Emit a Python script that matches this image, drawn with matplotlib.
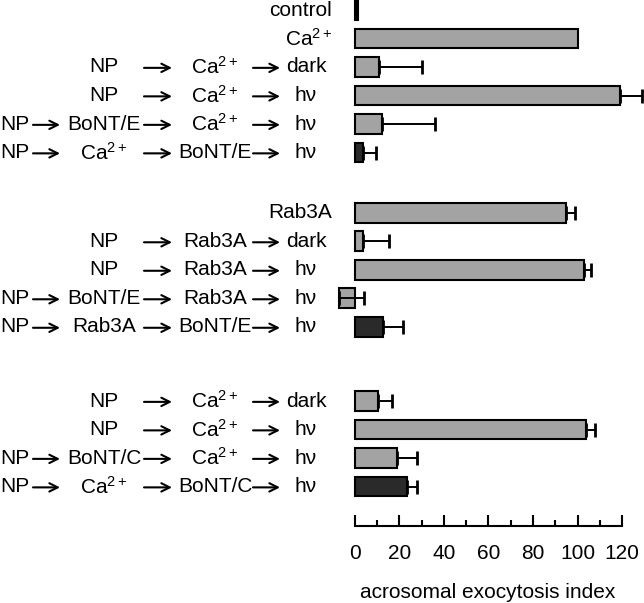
import numpy as np
import matplotlib
matplotlib.use("Agg")
import matplotlib.pyplot as plt
import matplotlib.transforms as mtransforms

plt.rcParams['font.family'] = ['Liberation Sans', 'DejaVu Sans']
plt.rcParams['font.size'] = 15
plt.rcParams['mathtext.fontset'] = 'custom'
plt.rcParams['mathtext.rm'] = 'Liberation Sans'
plt.rcParams['mathtext.it'] = 'Liberation Sans:italic'

CA = "Ca$^{2+}$"
# row labels, one tuple of steps per bar
labels = [
    ("control",),
    (CA,),
    ("NP", CA, "dark"),
    ("NP", CA, "h\u03bd"),
    ("NP", "BoNT/E", CA, "h\u03bd"),
    ("NP", CA, "BoNT/E", "h\u03bd"),
    ("Rab3A",),
    ("NP", "Rab3A", "dark"),
    ("NP", "Rab3A", "h\u03bd"),
    ("NP", "BoNT/E", "Rab3A", "h\u03bd"),
    ("NP", "Rab3A", "BoNT/E", "h\u03bd"),
    ("NP", CA, "dark"),
    ("NP", CA, "h\u03bd"),
    ("NP", "BoNT/C", CA, "h\u03bd"),
    ("NP", CA, "BoNT/C", "h\u03bd"),
]
values = [1.2, 100, 11, 119, 12, 3.5, 95, 3.5, 103, -7.3, 12.4, 10.5, 104, 18.7, 23.5]
errors = [0, 0, 19, 10, 24, 6, 3.7, 12, 3, 11.3, 9.3, 6, 3.7, 9.3, 4.2]
kinds = ["ctrl", "g", "g", "g", "g", "d", "g", "g", "g", "g", "d", "g", "g", "g", "d"]
group_sizes = [6, 5, 4]
group_extra = [0, 1.12, 1.6]

fill = {"ctrl": "black", "g": "#a3a3a3", "d": "#2a2a2a"}

# bar positions with gaps between groups
pos = []
y = 0
for g, n in enumerate(group_sizes):
    y += group_extra[g]
    for i in range(n):
        pos.append(y)
        y += 1
pos = np.array(pos)

W, H = 644, 603
fig = plt.figure(figsize=(W / 100, H / 100), dpi=100)
pitch = 28.5
top_px = 10
axis_px = 526
x0_px = 355
ppu = 2.225
xlim = (-10, 129.5)
left = (x0_px + xlim[0] * ppu) / W
width = (xlim[1] - xlim[0]) * ppu / W
ax = fig.add_axes([left, (H - axis_px) / H, width, axis_px / H])

ax.barh(pos, values, height=0.7, color=[fill[k] for k in kinds],
        edgecolor='black', linewidth=1.5, zorder=2)
err = np.array(errors)
mask = err > 0
ax.errorbar(np.array(values)[mask], pos[mask],
            xerr=[np.zeros(mask.sum()), err[mask]], fmt='none',
            ecolor='black', elinewidth=1.4, capsize=5, capthick=2, zorder=3)

ax.set_xlim(*xlim)
ax.set_ylim((axis_px - top_px) / pitch, -top_px / pitch)
ax.set_yticks([])
for s in ['top', 'right', 'left']:
    ax.spines[s].set_visible(False)
ax.spines['bottom'].set_bounds(0, 120)
ax.spines['bottom'].set_linewidth(1.5)
ax.set_xticks(np.arange(0, 121, 20))
ax.set_xticks(np.arange(10, 120, 20), minor=True)
ax.tick_params(axis='x', which='major', direction='in', length=8, width=1.5, pad=13)
ax.tick_params(axis='x', which='minor', direction='in', length=4, width=1.5)
ax.set_xlabel("acrosomal exocytosis index", labelpad=14)

# left side labels
trans = mtransforms.blended_transform_factory(fig.transFigure, ax.transData)
col_x = {4: [0, 104, 215, 306], 3: [104, 215, 306]}
arrows = {4: [(33, 60), (144, 172), (253, 280)], 3: [(144, 172), (253, 280)]}
for lab, yy in zip(labels, pos):
    n = len(lab)
    if n == 1:
        ax.text(332 / W, yy, lab[0], transform=trans, ha='right', va='center')
        continue
    for j, t in enumerate(lab):
        ha = 'left' if (n == 4 and j == 0) else 'center'
        ax.text(col_x[n][j] / W, yy, t, transform=trans, ha=ha, va='center')
    for a, b in arrows[n]:
        ax.annotate("", xy=(b / W, yy + 0.03), xytext=(a / W, yy + 0.03),
                    xycoords=trans, textcoords=trans, annotation_clip=False,
                    arrowprops=dict(arrowstyle='->', lw=1.5, color='black',
                                    shrinkA=0, shrinkB=0, mutation_scale=15))

fig.savefig("out.png", dpi=100)
